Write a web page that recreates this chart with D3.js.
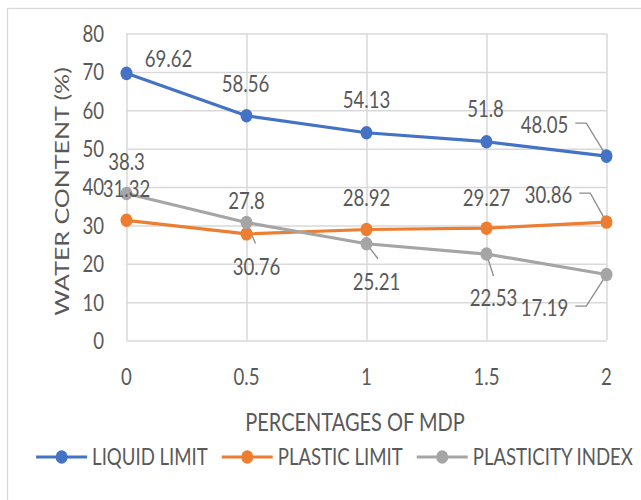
<!DOCTYPE html>
<html>
<head>
<meta charset="utf-8">
<script src="https://cdn.jsdelivr.net/npm/d3@7"></script>
<style>
  html, body { margin: 0; padding: 0; background: #fff; }
  svg { display: block; }
  text { font-family: Lato, "Open Sans", sans-serif; fill: #595959; }
</style>
</head>
<body>
<svg id="chart" width="641" height="500"></svg>
<script>
// ---- data ----
const mdpPercent = [0, 0.5, 1, 1.5, 2];
const xTickLabels = ["0", "0.5", "1", "1.5", "2"];
const yTickValues = [0, 10, 20, 30, 40, 50, 60, 70, 80];
const liquidLimit = [69.62, 58.56, 54.13, 51.8, 48.05];
const plasticLimit = [31.32, 27.8, 28.92, 29.27, 30.86];
const plasticityIndex = [38.3, 30.76, 25.21, 22.53, 17.19];
const seriesNames = ["LIQUID LIMIT", "PLASTIC LIMIT", "PLASTICITY INDEX"];
const seriesColors = ["#4472C4", "#ED7D31", "#A5A5A5"];

// ---- layout: data-label offsets from each point (text centre) ----
// type "r" = label sits left of the point with an elbow leader line,
// type "s" = straight short leader from point toward the label
const labelLayout = [
  [{dx: 42, dy: -15}, {dx: -1, dy: -32}, {dx: 0, dy: -33}, {dx: -1, dy: -33}, {dx: -62, dy: -31, type: "r"}],
  [{dx: 0, dy: -32}, {dx: 0, dy: -33}, {dx: 0, dy: -32}, {dx: 0, dy: -31}, {dx: -58, dy: -27, type: "r"}],
  [{dx: 0, dy: -32}, {dx: 10, dy: 44, type: "s", lx: 9, ly: 21},
   {dx: 10, dy: 38, type: "s", lx: 11.5, ly: 15}, {dx: 7, dy: 44, type: "s", lx: 7, ly: 22},
   {dx: -62, dy: 33.5, type: "r"}]
];

const W = 641, H = 500;
const plot = {left: 126.5, right: 606.5, top: 33.5, bottom: 340.5};
const fontSize = 18.6;
const stretch = 1.25;   // glyphs are drawn taller than the font's natural proportions

const svg = d3.select("#chart");

const x = d3.scaleLinear().domain([0, 2]).range([plot.left, plot.right]);
const y = d3.scaleLinear().domain([0, 80]).range([plot.bottom, plot.top]);

// outer chart frame
svg.append("rect")
  .attr("x", 7.5).attr("y", 8.5).attr("width", 700).attr("height", 600)
  .attr("fill", "none").attr("stroke", "#d9d9d9").attr("stroke-width", 1.3);

// helper: text centred (vertically) at cx, cy
function label(g, txt, cx, cy, anchor, size) {
  const s = size || fontSize;
  const t = g.append("g")
    .attr("transform", `translate(${cx},${cy}) scale(1,${stretch})`)
    .append("text")
    .attr("text-anchor", anchor || "middle")
    .attr("dy", "0.36em")
    .style("font-size", s + "px")
    .text(txt);
  return t;
}

// gridlines via axes
const grid = svg.append("g");
grid.append("g")
  .attr("transform", `translate(${plot.left},0)`)
  .call(d3.axisLeft(y).tickValues(yTickValues).tickSize(-(plot.right - plot.left)).tickFormat(""))
  .call(g => g.select(".domain").remove())
  .call(g => g.selectAll("line").attr("stroke", "#d9d9d9").attr("stroke-width", 1.5));
grid.append("g")
  .attr("transform", `translate(0,${plot.bottom})`)
  .call(d3.axisBottom(x).tickValues(mdpPercent).tickSize(-(plot.bottom - plot.top)).tickFormat(""))
  .call(g => g.select(".domain").remove())
  .call(g => g.selectAll("line").attr("stroke", "#d9d9d9").attr("stroke-width", 1.5));

// tick labels
const ticks = svg.append("g");
yTickValues.forEach(v => label(ticks, String(v), 104, y(v), "end"));
mdpPercent.forEach((v, i) => label(ticks, xTickLabels[i], x(v), 377));

// axis titles
svg.append("g")
  .attr("transform", `translate(355,422) scale(1,${stretch})`)
  .append("text").attr("text-anchor", "middle").attr("dy", "0.36em")
  .style("font-size", "20px").text("PERCENTAGES OF MDP");
svg.append("g")
  .attr("transform", `translate(62,191.5) rotate(-90) scale(${stretch},1)`)
  .append("text").attr("text-anchor", "middle").attr("dy", "0.36em")
  .style("font-size", "20px").text("WATER CONTENT (%)");

const allSeries = [liquidLimit, plasticLimit, plasticityIndex];

// leader lines (under the series markers)
const leaders = svg.append("g").attr("fill", "none").attr("stroke", "#8c8c8c").attr("stroke-width", 1.3);

// series lines & markers
const line = d3.line().x((d, i) => x(mdpPercent[i])).y(d => y(d));
allSeries.forEach((vals, si) => {
  const g = svg.append("g");
  g.append("path").datum(vals)
    .attr("d", line).attr("fill", "none")
    .attr("stroke", seriesColors[si]).attr("stroke-width", 3.2)
    .attr("stroke-linejoin", "round");
  g.selectAll("ellipse").data(vals).join("ellipse")
    .attr("cx", (d, i) => x(mdpPercent[i])).attr("cy", d => y(d))
    .attr("rx", 6).attr("ry", 6.8)
    .attr("fill", seriesColors[si]);
});

// data labels on top
const topLabels = svg.append("g");
allSeries.forEach((vals, si) => {
  vals.forEach((v, i) => {
    const px = x(mdpPercent[i]), py = y(v);
    const L = labelLayout[si][i];
    const cx = px + L.dx, cy = py + L.dy;
    const t = label(topLabels, String(v), cx, cy);
    if (L.type === "r") {
      const w = t.node().getComputedTextLength();
      const sx = cx + w / 2 + 7, sy = cy - 2;
      leaders.append("path")
        .attr("d", d3.line()([[sx, sy], [sx + 11, sy], [px, py]]));
    } else if (L.type === "s") {
      leaders.append("path")
        .attr("d", d3.line()([[px, py], [px + L.lx, py + L.ly]]));
    }
  });
});

// legend, centred below the x-axis title
const legend = svg.append("g");
const legendY = 457, lineLen = 51, textGap = 5, itemGap = 14;
const items = seriesNames.map((name, i) => {
  const g = legend.append("g");
  g.append("line").attr("x1", 0).attr("x2", lineLen).attr("y1", legendY).attr("y2", legendY)
    .attr("stroke", seriesColors[i]).attr("stroke-width", 3.2);
  g.append("ellipse").attr("cx", lineLen / 2).attr("cy", legendY).attr("rx", 6).attr("ry", 6.8)
    .attr("fill", seriesColors[i]);
  const t = label(g, name, lineLen + textGap, legendY, "start");
  return {g, w: lineLen + textGap + t.node().getComputedTextLength()};
});
const total = d3.sum(items, d => d.w) + itemGap * (items.length - 1);
let cursor = 334.5 - total / 2;
items.forEach(it => {
  it.g.attr("transform", `translate(${cursor},0)`);
  cursor += it.w + itemGap;
});
</script>
</body>
</html>
